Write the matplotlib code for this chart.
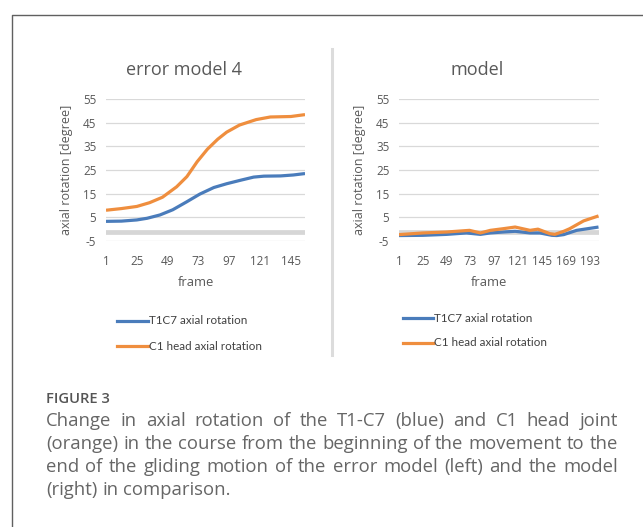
import matplotlib
matplotlib.use("Agg")
import matplotlib.pyplot as plt
from matplotlib.lines import Line2D

plt.rcParams["axes.unicode_minus"] = False

# ---------------- data ----------------
left_title = "error model 4"
right_title = "model"
series_names = ["T1C7 axial rotation", "C1 head axial rotation"]
y_ticks = [-5, 5, 15, 25, 35, 45, 55]
left_xticks = [1, 25, 49, 73, 97, 121, 145]
right_xticks = [1, 25, 49, 73, 97, 121, 145, 169, 193]

left_blue_frames = [1, 13, 25, 33, 43, 53, 64, 74, 85, 95, 106, 116, 124, 137, 147, 156]
left_blue_vals = [3.3, 3.4, 3.9, 4.6, 6.0, 8.2, 11.6, 14.8, 17.6, 19.2, 20.7, 22.0, 22.4, 22.5, 22.9, 23.5]
left_orange_frames = [1, 13, 25, 35, 45, 56, 64, 72, 80, 88, 95, 105, 118, 129, 145, 156]
left_orange_vals = [8.0, 8.7, 9.6, 11.2, 13.5, 17.9, 22.2, 28.5, 33.8, 38.0, 41.0, 44.0, 46.3, 47.4, 47.6, 48.4]

right_blue_frames = [1, 25, 49, 69, 83, 93, 106, 118, 133, 143, 155, 160, 167, 180, 202]
right_blue_vals = [-2.7, -2.6, -2.2, -1.6, -2.2, -1.6, -1.2, -0.9, -1.6, -1.6, -2.6, -2.7, -2.3, -0.5, 0.9]
right_orange_frames = [1, 25, 49, 72, 83, 93, 106, 118, 133, 141, 153, 158, 167, 173, 187, 202]
right_orange_vals = [-2.3, -1.6, -1.2, -0.5, -1.6, -0.5, 0.2, 0.9, -0.5, 0.0, -1.9, -2.2, -0.9, 0.2, 3.5, 5.6]

caption_head = "FIGURE 3"
caption_lines = [
    "Change in axial rotation of the T1-C7 (blue) and C1 head joint",
    "(orange) in the course from the beginning of the movement to the",
    "end of the gliding motion of the error model (left) and the model",
    "(right) in comparison.",
]

# ---------------- style ----------------
W, H = 643, 527
BLUE = "#4A7CBB"
ORANGE = "#EF8E3E"
GRID = "#d9d9d9"
TXT = "#595959"
FONT = "Open Sans"

fig = plt.figure(figsize=(W / 100, H / 100), dpi=100)
fig.patch.set_facecolor("white")


def fx(px):
    return px / W


def fy(py):
    return 1 - py / H


def make_axes(x0, x1, xmax, xticks, title, title_cx, label_cx, blue, orange):
    ax = fig.add_axes([fx(x0), fy(241), fx(x1 - x0), (241 - 99) / H])
    ax.set_xlim(1, xmax)
    ax.set_ylim(-5, 55)
    ax.set_yticks(y_ticks)
    ax.set_xticks(xticks)
    ax.grid(axis="y", color=GRID, lw=0.9)
    ax.grid(axis="x", visible=False)
    ax.set_axisbelow(True)
    for s in ax.spines.values():
        s.set_visible(False)
    ax.tick_params(length=0, labelsize=8.4, labelcolor=TXT)
    ax.tick_params(axis="y", pad=7)
    ax.tick_params(axis="x", pad=10)
    for lab in ax.get_xticklabels() + ax.get_yticklabels():
        lab.set_fontfamily(FONT)
    ax.axhline(-1, color="#d6d6d6", lw=3.4, zorder=1)
    ax.plot(blue[0], blue[1], color=BLUE, lw=2.3, solid_capstyle="butt", zorder=3)
    ax.plot(orange[0], orange[1], color=ORANGE, lw=2.3, solid_capstyle="butt", zorder=4)
    ax.set_ylabel("axial rotation [degree]", fontsize=9.0, color=TXT, family=FONT, labelpad=7)
    fig.text(fx(label_cx), fy(283), "frame", ha="center", va="center",
             fontsize=9.4, color=TXT, family=FONT)
    fig.text(fx(title_cx), fy(70), title, ha="center", va="center",
             fontsize=13, color=TXT, family=FONT)
    return ax


make_axes(106, 305, 156, left_xticks, left_title, 184, 196,
          (left_blue_frames, left_blue_vals), (left_orange_frames, left_orange_vals))
make_axes(399, 598.5, 202, right_xticks, right_title, 477, 489,
          (right_blue_frames, right_blue_vals), (right_orange_frames, right_orange_vals))


# legends
def legend(x0, x1, ys):
    for (yy, c, name) in zip(ys, [BLUE, ORANGE], series_names):
        fig.add_artist(Line2D([fx(x0), fx(x1)], [fy(yy), fy(yy)], color=c, lw=2.3,
                              transform=fig.transFigure))
        fig.text(fx(x1 + 1), fy(yy), name, ha="left", va="center", fontsize=8.4,
                 color="#404040", family="Lato")


legend(117, 148, [321, 346])
legend(403, 433, [318, 343])

# separator & frame
fig.add_artist(Line2D([fx(331.5), fx(331.5)], [fy(49), fy(355)], color="#dcdcdc", lw=2.2,
                      transform=fig.transFigure))
fig.add_artist(Line2D([fx(11.5), fx(11.5), fx(643)], [fy(527), fy(14.5), fy(14.5)],
                      color="#606060", lw=1.0, transform=fig.transFigure))

# caption
fig.text(fx(46), fy(403), caption_head, ha="left", va="baseline", fontsize=10.6,
         color="#555555", family=FONT, weight="semibold")

renderer = fig.canvas.get_renderer()
L, R = 46, 618
CAP_FS = 13.3
for i, line in enumerate(caption_lines):
    base = 426 + 23 * i
    words = line.split(" ")
    texts = [fig.text(0, fy(base), w, ha="left", va="baseline", fontsize=CAP_FS,
                      color="#666666", family=FONT) for w in words]
    widths = [t.get_window_extent(renderer).width for t in texts]
    if i < len(caption_lines) - 1:
        gap = (R - L - sum(widths)) / (len(words) - 1)
    else:
        sp = fig.text(0, 0, "a a", fontsize=CAP_FS, family=FONT)
        sp2 = fig.text(0, 0, "aa", fontsize=CAP_FS, family=FONT)
        gap = sp.get_window_extent(renderer).width - sp2.get_window_extent(renderer).width
        sp.remove()
        sp2.remove()
    x = L
    for t, w in zip(texts, widths):
        t.set_x(fx(x))
        x += w + gap

fig.savefig("out.png", dpi=100, facecolor="white")
